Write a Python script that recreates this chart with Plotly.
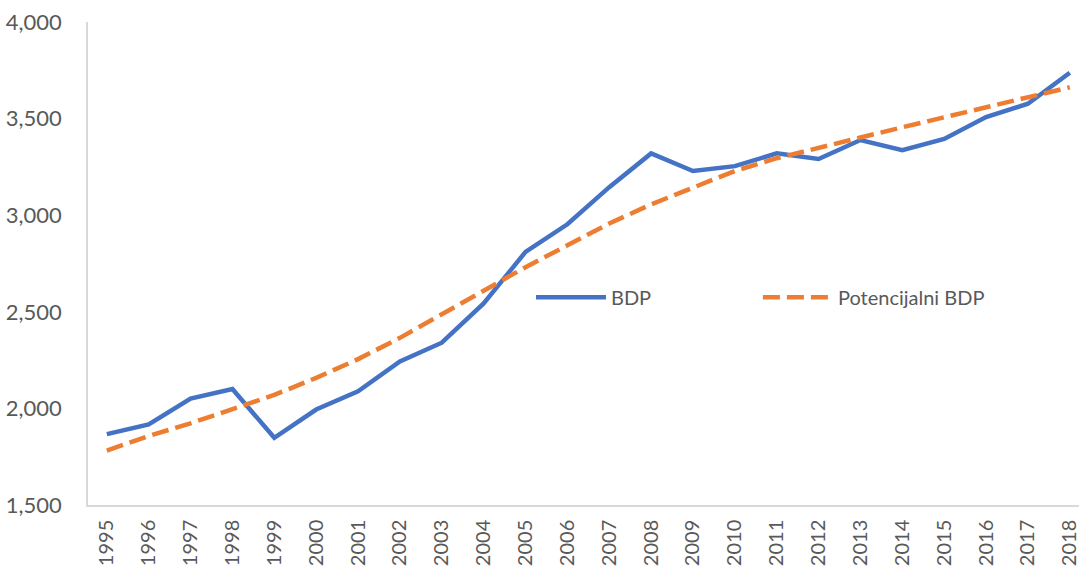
import plotly.graph_objects as go

years = [str(y) for y in range(1995, 2019)]
bdp = [1867, 1917, 2051, 2100, 1848, 1994, 2088, 2243, 2340, 2543, 2810, 2953,
       3145, 3320, 3229, 3254, 3320, 3291, 3389, 3336, 3395, 3508, 3577, 3737]
potencijalni = [1782, 1857, 1923, 1994, 2070, 2158, 2255, 2365, 2487, 2609, 2731, 2844,
                2957, 3056, 3145, 3229, 3295, 3346, 3402, 3455, 3508, 3558, 3609, 3662]
y_ticks = [1500, 2000, 2500, 3000, 3500, 4000]

xnum = list(range(len(years)))

fig = go.Figure()
fig.add_trace(go.Scatter(x=xnum, y=bdp, mode="lines", name="BDP", legend="legend",
                         line=dict(color="#4472C4", width=4.5)))
fig.add_trace(go.Scatter(x=xnum, y=potencijalni, mode="lines", name="Potencijalni BDP",
                         legend="legend2",
                         line=dict(color="#ED7D31", width=4.5, dash="17px,7px")))

font_family = "Lato, 'Open Sans', sans-serif"
leg_common = dict(orientation="h", y=0.43, xanchor="left", yanchor="middle",
                  bgcolor="rgba(0,0,0,0)", font=dict(size=20, color="#595959",
                                                     family=font_family),
                  itemwidth=70)
fig.update_layout(
    width=1079, height=569,
    margin=dict(l=88, r=0, t=22, b=64),
    paper_bgcolor="white", plot_bgcolor="white",
    font=dict(family=font_family, color="#595959", size=21),
    showlegend=True,
    legend=dict(x=0.447, **leg_common),
    legend2=dict(x=0.676, **leg_common),
    xaxis=dict(range=[-0.45, 23.22], tickmode="array", tickvals=xnum, ticktext=years,
               tickangle=-90, showgrid=False, zeroline=False, automargin=False,
               showline=True, linecolor="#D9D9D9", linewidth=1.5,
               ticklabeloverflow="allow", ticklabelstandoff=5,
               ticks="", tickfont=dict(size=20, color="#595959")),
    yaxis=dict(range=[1500, 4000], tickvals=y_ticks, tickformat=",",
               showgrid=False, zeroline=False, automargin=False,
               showline=True, linecolor="#D9D9D9", linewidth=1.5,
               ticklabelstandoff=20,
               ticks="", tickfont=dict(size=22, color="#595959")),
)
fig.write_html("out.html", config={"displayModeBar": False},
               post_script="document.body.style.margin='0';document.body.style.overflow='hidden';")
